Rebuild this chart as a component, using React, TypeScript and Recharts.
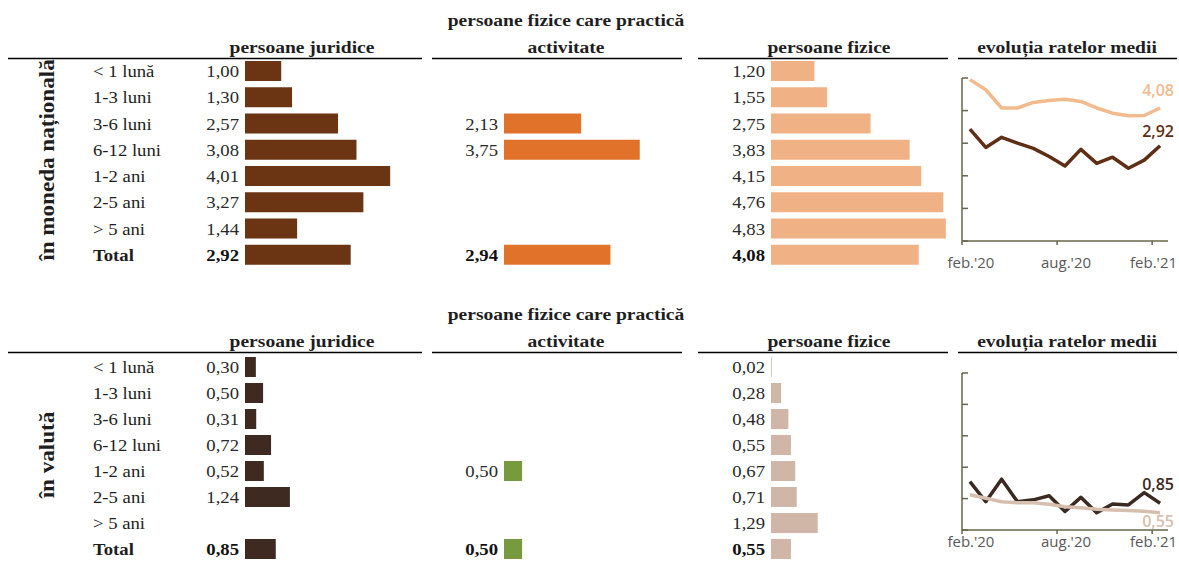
import React from "react";
import { BarChart, Bar, XAxis, YAxis, LabelList, LineChart, Line } from "recharts";

const categories = ["< 1 lună", "1-3 luni", "3-6 luni", "6-12 luni", "1-2 ani", "2-5 ani", "> 5 ani", "Total"];

// rate medii, în moneda națională
const mnJuridice = [1.0, 1.3, 2.57, 3.08, 4.01, 3.27, 1.44, 2.92];
const mnActivitate = [null, null, 2.13, 3.75, null, null, null, 2.94];
const mnFizice = [1.2, 1.55, 2.75, 3.83, 4.15, 4.76, 4.83, 4.08];

// rate medii, în valută
const valJuridice = [0.3, 0.5, 0.31, 0.72, 0.52, 1.24, null, 0.85];
const valActivitate = [null, null, null, null, 0.5, null, null, 0.5];
const valFizice = [0.02, 0.28, 0.48, 0.55, 0.67, 0.71, 1.29, 0.55];

// evoluția ratelor medii
const months = ["feb.'20", "mar.'20", "apr.'20", "mai.'20", "iun.'20", "iul.'20", "aug.'20", "sep.'20", "oct.'20", "nov.'20", "dec.'20", "ian.'21", "feb.'21"];
const monthTicks = [0, 6, 12];
const mnRataJuridice = [3.43, 2.87, 3.18, 3.0, 2.84, 2.59, 2.3, 2.81, 2.38, 2.57, 2.23, 2.48, 2.92];
const mnRataFizice = [4.95, 4.64, 4.08, 4.08, 4.25, 4.31, 4.35, 4.28, 4.08, 3.92, 3.84, 3.85, 4.08];
const valRataJuridice = [1.54, 0.9, 1.62, 0.9, 0.96, 1.09, 0.59, 1.04, 0.55, 0.83, 0.8, 1.19, 0.85];
const valRataFizice = [1.12, 1.01, 0.9, 0.87, 0.87, 0.82, 0.74, 0.71, 0.66, 0.64, 0.62, 0.6, 0.55];

const serif = "'Liberation Serif', 'Times New Roman', serif";
const sans = "'Open Sans', 'Liberation Sans', sans-serif";
const AXIS = "#66664a";
const PLOT_W = 181;
const X_AXIS_H = 30;

const fmt = (v: number) => v.toFixed(2).replace(".", ",");

function SText({ x, y, children, anchor = "start", size = 17, bold = false, sx = 1.1, fill = "#1e1e1e", rotate = 0 }: any) {
  const tf = `translate(${x},${y})${rotate ? ` rotate(${rotate})` : ""} scale(${sx},1)`;
  return (
    <text transform={tf} textAnchor={anchor} fontFamily={serif} fontSize={size} fontWeight={bold ? 700 : 400} fill={fill}>
      {children}
    </text>
  );
}

function valueLabel(bold: boolean) {
  return (p: any) => {
    if (p.value == null) return null;
    const vb = p.viewBox ?? p;
    return (
      <SText x={vb.x - 6} y={vb.y + vb.height / 2 + 6} anchor="end" bold={bold} fill={bold ? "#111" : "#2a2a2a"}>
        {p.value}
      </SText>
    );
  };
}

function catTick(p: any) {
  const label = p.payload.value;
  return <SText x={93} y={p.y + 6} bold={label === "Total"}>{label}</SText>;
}

function BarPanel({ values, color, left, top, height, plotLeft, showCats = false }: any) {
  const rows = categories.map((cat, i) => ({
    cat,
    v: values[i],
    lbl: i < 7 && values[i] != null ? fmt(values[i]) : null,
    tot: i === 7 && values[i] != null ? fmt(values[i]) : null,
  }));
  return (
    <div style={{ position: "absolute", left, top }}>
      <BarChart
        layout="vertical"
        width={plotLeft + PLOT_W}
        height={height}
        data={rows}
        margin={{ top: 0, right: 0, bottom: 0, left: showCats ? 0 : plotLeft }}
      >
        <XAxis type="number" domain={[0, 5]} hide />
        <YAxis type="category" dataKey="cat" hide={!showCats} width={plotLeft} axisLine={false} tickLine={false} tick={catTick} />
        <Bar dataKey="v" fill={color} barSize={20} isAnimationActive={false}>
          <LabelList dataKey="lbl" content={valueLabel(false)} />
          <LabelList dataKey="tot" content={valueLabel(true)} />
        </Bar>
      </BarChart>
    </div>
  );
}

const HALF_BAND = (249 - 32 - 11) / 13 / 2;

function monthTick(labelDy: number) {
  return (p: any) => {
    const last = p.payload.value === months.length - 1;
    return (
      <g>
        <line x1={p.x - HALF_BAND} x2={p.x - HALF_BAND} y1={p.y} y2={p.y + 4} stroke={AXIS} strokeWidth={1.5} />
        <text
          x={last ? p.x + 17 : p.x + 1}
          y={p.y + labelDy}
          textAnchor={last ? "end" : "middle"}
          fontFamily={sans}
          fontSize={15}
          fill="#595959"
        >
          {months[p.payload.value]}
        </text>
      </g>
    );
  };
}

function innerTick(p: any) {
  return <line x1={p.x} x2={p.x + 6} y1={p.y} y2={p.y} stroke={AXIS} strokeWidth={1.5} />;
}

function endLabel(color: string, dy: number) {
  return (p: any) => {
    if (p.value == null) return null;
    const vb = p.viewBox ?? p;
    return (
      <text x={vb.x - 2} y={vb.y + dy} textAnchor="middle" fontFamily={sans} fontSize={16} fontWeight={600} fill={color}>
        {p.value}
      </text>
    );
  };
}

function RatePanel({ dark, light, darkColor, lightColor, top, height, mt, mb, labelDy, darkDy, lightDy }: any) {
  const rows = months.map((m, i) => ({
    i,
    m,
    d: dark[i],
    l: light[i],
    dEnd: i === months.length - 1 ? fmt(dark[i]) : null,
    lEnd: i === months.length - 1 ? fmt(light[i]) : null,
  }));
  return (
    <div style={{ position: "absolute", left: 930, top }}>
      <LineChart width={249} height={height} data={rows} margin={{ top: mt, right: 11, bottom: mb - X_AXIS_H, left: 0 }}>
        <XAxis
          type="number"
          dataKey="i"
          domain={[-0.5, 12.5]}
          ticks={monthTicks}
          height={X_AXIS_H}
          axisLine={{ stroke: AXIS, strokeWidth: 1.5 }}
          tickLine={false}
          tickSize={0}
          tickMargin={0}
          tick={monthTick(labelDy)}
        />
        <YAxis
          type="number"
          domain={[0, 5]}
          ticks={[0, 1, 2, 3, 4, 5]}
          width={32}
          axisLine={{ stroke: AXIS, strokeWidth: 1.5 }}
          tickLine={false}
          tickSize={0}
          tickMargin={0}
          tick={innerTick}
        />
        <Line type="linear" dataKey="d" stroke={darkColor} strokeWidth={3.5} dot={false} strokeLinejoin="round" isAnimationActive={false}>
          <LabelList dataKey="dEnd" content={endLabel(darkColor, darkDy)} />
        </Line>
        <Line type="linear" dataKey="l" stroke={lightColor} strokeWidth={3.5} dot={false} strokeLinejoin="round" isAnimationActive={false}>
          <LabelList dataKey="lEnd" content={endLabel(lightColor, lightDy)} />
        </Line>
      </LineChart>
    </div>
  );
}

function Headers({ dy }: { dy: number }) {
  const ly = 58.5 + dy;
  const segs = [[8, 422], [432, 682], [698, 948], [958, 1177]];
  return (
    <g>
      {segs.map(([a, b]) => (
        <line key={a} x1={a} x2={b} y1={ly} y2={ly} stroke="#000" strokeWidth={1.5} />
      ))}
      <SText x={302} y={53 + dy} anchor="middle" bold sx={1.15}>persoane juridice</SText>
      <SText x={566} y={26 + dy} anchor="middle" bold sx={1.15}>persoane fizice care practică</SText>
      <SText x={566} y={53 + dy} anchor="middle" bold sx={1.15}>activitate</SText>
      <SText x={829} y={53 + dy} anchor="middle" bold sx={1.15}>persoane fizice</SText>
      <SText x={1067} y={53 + dy} anchor="middle" bold sx={1.15}>evoluția ratelor medii</SText>
    </g>
  );
}

export default function App() {
  return (
    <div style={{ position: "absolute", left: 0, top: 0, width: 1179, height: 562, background: "#fff", overflow: "hidden" }}>
      <BarPanel values={mnJuridice} color="#6B3513" left={0} top={58} height={210} plotLeft={245} showCats />
      <BarPanel values={mnActivitate} color="#E0722A" left={432} top={58} height={210} plotLeft={72} />
      <BarPanel values={mnFizice} color="#F0B185" left={698} top={58} height={210} plotLeft={73} />
      <RatePanel
        dark={mnRataJuridice}
        light={mnRataFizice}
        darkColor="#5E2F14"
        lightColor="#F3BA8D"
        top={60}
        height={230}
        mt={18}
        mb={49}
        labelDy={27}
        darkDy={-9}
        lightDy={-12}
      />

      <BarPanel values={valJuridice} color="#3E2A20" left={0} top={354} height={208} plotLeft={245} showCats />
      <BarPanel values={valActivitate} color="#779A3F" left={432} top={354} height={208} plotLeft={72} />
      <BarPanel values={valFizice} color="#CFB6A6" left={698} top={354} height={208} plotLeft={73} />
      <RatePanel
        dark={valRataJuridice}
        light={valRataFizice}
        darkColor="#3B2A21"
        lightColor="#D6BFAE"
        top={355}
        height={207}
        mt={18}
        mb={32}
        labelDy={17}
        darkDy={-13}
        lightDy={14}
      />

      <svg width={1179} height={562} style={{ position: "absolute", left: 0, top: 0, pointerEvents: "none" }}>
        <Headers dy={0} />
        <Headers dy={294} />
        <SText x={54} y={160} anchor="middle" bold size={21} rotate={-90}>în moneda națională</SText>
        <SText x={54} y={455} anchor="middle" bold size={21} rotate={-90}>în valută</SText>
      </svg>
    </div>
  );
}
